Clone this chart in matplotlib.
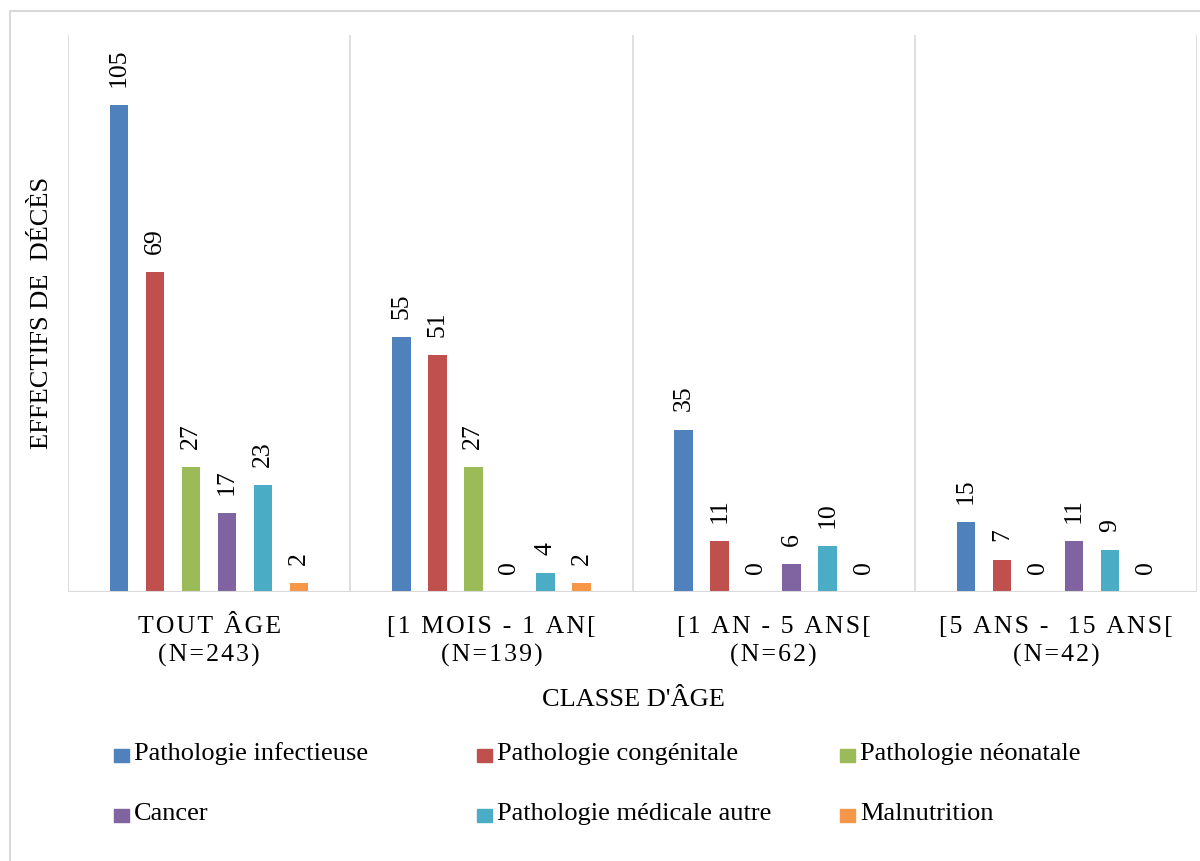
import matplotlib
matplotlib.use("Agg")
import matplotlib.pyplot as plt
from matplotlib.patches import Rectangle
from matplotlib.lines import Line2D
import numpy as np

plt.rcParams["font.family"] = ["Liberation Serif", "DejaVu Serif"]

# ----------------------------------------
# DATA
# ----------------------------------------
categories = ["TOUT ÂGE\n(N=243)", "[1 MOIS - 1 AN[\n(N=139)",
              "[1 AN - 5 ANS[\n(N=62)", "[5 ANS -  15 ANS[\n(N=42)"]
series = ["Pathologie infectieuse", "Pathologie congénitale", "Pathologie néonatale",
          "Cancer", "Pathologie médicale autre", "Malnutrition"]
infectieuse = [105, 55, 35, 15]
congenitale = [69, 51, 11, 7]
neonatale = [27, 27, 0, 0]
cancer = [17, 0, 6, 11]
medicale_autre = [23, 4, 10, 9]
malnutrition = [2, 2, 0, 0]
values = [infectieuse, congenitale, neonatale, cancer, medicale_autre, malnutrition]
colors = ["#4F81BD", "#C0504D", "#9BBB59", "#8064A2", "#4BACC6", "#F79646"]


def spaced(s):
    # Excel-like letter spacing on the category labels
    return "\n".join("\u200a".join(line) for line in s.split("\n"))


# ----------------------------------------
# FIGURE
# ----------------------------------------
fig = plt.figure(figsize=(12, 8.61), dpi=100)
ax = fig.add_axes([68 / 1200, 1 - 592 / 861, (1197 - 68) / 1200, (592 - 35) / 861])

x = np.arange(len(categories))
step = 0.1277
width = 0.0656
for i, (name, vals, col) in enumerate(zip(series, values, colors)):
    pos = x + (i - 2.5) * step
    bars = ax.bar(pos, vals, width, color=col, label=name, zorder=3)
    for b, v in zip(bars, vals):
        ax.annotate(str(v), (b.get_x() + b.get_width() / 2, v),
                    xytext=(0, 13), textcoords="offset points",
                    rotation=90, ha="center", va="bottom", fontsize=18.5)

ax.set_xlim(-0.5, len(categories) - 0.5)
ax.set_ylim(0, 120)
for gx in np.arange(-0.5, len(categories), 1.0):
    ax.axvline(gx, color="#D9D9D9", lw=1.2, zorder=1)
for s in ax.spines.values():
    s.set_visible(False)
ax.axhline(0, color="#D9D9D9", lw=1.5, zorder=4)
ax.set_yticks([])
ax.set_xticks(x)
ax.set_xticklabels([spaced(c) for c in categories], fontsize=18.5, linespacing=1.38)
ax.tick_params(axis="x", length=0, pad=17)

fig.text(42 / 1200, 1 - 313 / 861, "EFFECTIFS DE  DÉCÈS", rotation=90,
         ha="center", va="center", fontsize=19)
fig.text(633 / 1200, 1 - 700 / 861, "CLASSE D'ÂGE", ha="center", va="center", fontsize=19)

# legend, laid out like the original (3 columns x 2 rows)
col_x = [114, 477, 840]
row_y = [755, 815]
for i, (name, col) in enumerate(zip(series, colors)):
    cx = col_x[i % 3]
    cy = row_y[i // 3]
    fig.patches.append(Rectangle((cx / 1200, 1 - (cy + 7) / 861), 15 / 1200, 13 / 861,
                                 color=col, transform=fig.transFigure))
    fig.text((cx + 20) / 1200, 1 - (cy - 1) / 861, name, ha="left", va="center", fontsize=19)

# outer chart border
fig.lines.append(Line2D([10 / 1200, 10 / 1200, 1.0], [0, 1 - 11 / 861, 1 - 11 / 861],
                        color="#D9D9D9", lw=1.5, transform=fig.transFigure))

fig.savefig("out.png", dpi=100)
